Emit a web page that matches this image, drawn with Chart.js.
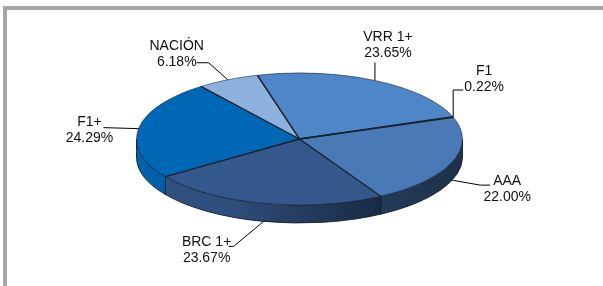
<!DOCTYPE html>
<html>
<head>
<meta charset="utf-8">
<script src="https://cdn.jsdelivr.net/npm/chart.js@4.4.1/dist/chart.umd.min.js"></script>
<style>
  html, body { margin: 0; padding: 0; background: #fff; }
  #marco { position: absolute; left: 3px; top: 6px; right: 0; bottom: 0; border-top: 4px solid #a6a6a6; border-left: 4px solid #a6a6a6; }
  #grafico { position: absolute; left: 0; top: 0; }
</style>
</head>
<body>
<div id="marco"></div>
<canvas id="grafico" width="603" height="286"></canvas>
<script>
const calificaciones = ["VRR 1+", "F1", "AAA", "BRC 1+", "F1+", "NACIÓN"];
const participacion = [23.65, 0.22, 22.0, 23.67, 24.29, 6.18];
const colores = ["#4f86c8", "#5c92d6", "#4a7ab5", "#34588b", "#0067b4", "#8db0dd"];

// guia de cada etiqueta, relativa al punto medio del sector: codo, cola horizontal y centro del texto
const guias = [
  { codo: [0, -18], cola: 0, texto: [13, -35] },
  { codo: [0, -27], cola: 10, texto: [31, -38] },
  { codo: [28, 5], cola: 10, texto: [55, 9] },
  { codo: [-30, 25], cola: -5, texto: [-57, 29] },
  { codo: [-35, -1], cola: 0, texto: [-49, 2] },
  { codo: [-19, -17], cola: -12, texto: [-51, -26] },
];

// tamaño de la elipse en pantalla y grosor del pastel
const RX = 163;
const RY = 66;
const PROF = 18;

function oscurecer(hex, f) {
  const n = parseInt(hex.slice(1), 16);
  const r = Math.round(((n >> 16) & 255) * f);
  const g = Math.round(((n >> 8) & 255) * f);
  const b = Math.round((n & 255) * f);
  return `rgb(${r}, ${g}, ${b})`;
}

function dibujarLados(chart) {
  const ctx = chart.ctx;
  const arcos = chart.getDatasetMeta(0).data;
  arcos.forEach((arco, i) => {
    const cx = arco.x;
    const cy = arco.y;
    const tramos = [];
    for (let k = -1; k <= 1; k++) {
      const a = Math.max(arco.startAngle, 2 * Math.PI * k);
      const b = Math.min(arco.endAngle, 2 * Math.PI * k + Math.PI);
      if (b > a) tramos.push([a, b]);
    }
    tramos.forEach(([a, b]) => {
      const grad = ctx.createLinearGradient(cx - RX, 0, cx + RX, 0);
      grad.addColorStop(0, oscurecer(colores[i], 0.95));
      grad.addColorStop(0.3, oscurecer(colores[i], 0.88));
      grad.addColorStop(0.75, oscurecer(colores[i], 0.48));
      grad.addColorStop(1, oscurecer(colores[i], 0.4));
      ctx.beginPath();
      ctx.ellipse(cx, cy, RX, RY, 0, a, b);
      ctx.ellipse(cx, cy + PROF, RX, RY, 0, b, a, true);
      ctx.closePath();
      ctx.fillStyle = grad;
      ctx.fill();
      ctx.strokeStyle = "rgba(15, 25, 40, 0.85)";
      ctx.lineWidth = 1;
      ctx.stroke();
    });
  });
}

function dibujarBordes(chart) {
  const ctx = chart.ctx;
  const arcos = chart.getDatasetMeta(0).data;
  const cx = arcos[0].x;
  const cy = arcos[0].y;
  ctx.save();
  ctx.strokeStyle = "#17202b";
  ctx.lineWidth = 1.4;
  arcos.forEach((arco) => {
    ctx.beginPath();
    ctx.moveTo(cx, cy);
    ctx.lineTo(cx + RX * Math.cos(arco.startAngle), cy + RY * Math.sin(arco.startAngle));
    ctx.stroke();
  });
  ctx.lineWidth = 0.8;
  ctx.strokeStyle = "rgba(20, 35, 55, 0.7)";
  ctx.beginPath();
  ctx.ellipse(cx, cy, RX, RY, 0, 0, 2 * Math.PI);
  ctx.stroke();
  ctx.restore();
}

function dibujarEtiquetas(chart) {
  const ctx = chart.ctx;
  const arcos = chart.getDatasetMeta(0).data;
  ctx.save();
  ctx.font = '14px "Liberation Sans", Arial, sans-serif';
  ctx.textAlign = "center";
  ctx.textBaseline = "middle";
  arcos.forEach((arco, i) => {
    const medio = (arco.startAngle + arco.endAngle) / 2;
    const px = arco.x + RX * Math.cos(medio);
    let py = arco.y + RY * Math.sin(medio);
    if (Math.sin(medio) > 0) py += PROF;
    const g = guias[i];
    const ex = px + g.codo[0];
    const ey = py + g.codo[1];
    ctx.strokeStyle = "#000";
    ctx.lineWidth = 1;
    ctx.beginPath();
    ctx.moveTo(px, py);
    ctx.lineTo(ex, ey);
    ctx.lineTo(ex + g.cola, ey);
    ctx.stroke();
    const tx = px + g.texto[0];
    const ty = py + g.texto[1];
    ctx.fillStyle = "#111";
    ctx.fillText(calificaciones[i], tx, ty - 8);
    ctx.fillText(participacion[i].toFixed(2) + "%", tx, ty + 8);
  });
  ctx.restore();
}

const pastel3d = {
  id: "pastel3d",
  beforeDatasetsDraw(chart) {
    dibujarLados(chart);
    const arco = chart.getDatasetMeta(0).data[0];
    const ctx = chart.ctx;
    ctx.save();
    ctx.translate(arco.x, arco.y);
    ctx.scale(RX / arco.outerRadius, RY / arco.outerRadius);
    ctx.translate(-arco.x, -arco.y);
  },
  afterDatasetsDraw(chart) {
    chart.ctx.restore();
    dibujarBordes(chart);
    dibujarEtiquetas(chart);
  },
};

const ctx = document.getElementById("grafico").getContext("2d");
const grafico = new Chart(ctx, {
  type: "pie",
  data: {
    labels: calificaciones,
    datasets: [
      {
        data: participacion,
        backgroundColor: colores,
        borderWidth: 0,
        clip: false,
      },
    ],
  },
  options: {
    responsive: false,
    animation: false,
    rotation: -15,
    layout: { padding: { top: 0, bottom: 8, left: 0, right: 4 } },
    plugins: {
      legend: { display: false },
      tooltip: { enabled: false },
    },
  },
  plugins: [pastel3d],
});
</script>
</body>
</html>
